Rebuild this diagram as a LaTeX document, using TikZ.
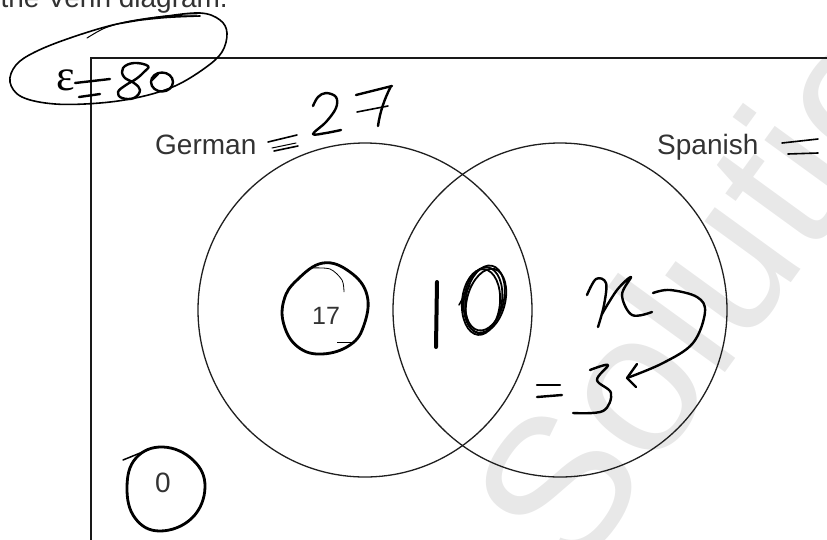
\documentclass[tikz,border=0pt]{standalone}
\usepackage{fontspec}
\setmainfont{Liberation Sans}
\newfontfamily\epsfont{Liberation Serif}
\usetikzlibrary{calc}
\begin{document}
\begin{tikzpicture}[x=1pt,y=-1pt,
  hand/.style={line width=2.4pt, line cap=round, line join=round},
  thinhand/.style={line width=1.6pt, line cap=round, line join=round},
  lbl/.style={text=ink, font=\fontsize{28}{28}\selectfont, inner sep=0pt},
  num/.style={text=ink, font=\fontsize{25}{25}\selectfont, inner sep=0pt},
  setc/.style={draw=black!88, line width=1.3pt}]
\definecolor{ink}{HTML}{333333}
\useasboundingbox (0,0) rectangle (827,539);
% watermark
\node[rotate=54, anchor=base west, text=black!9, inner sep=0pt,
      font=\fontsize{200}{200}\selectfont] (wm) at (574,582) {Solutions};
% top text (cut)
\node[lbl, anchor=base east] (top) at (228,7) {the Venn diagram.};
% universal set
\draw[line width=2pt, draw=black!90] (91,545) -- (91,58) -- (835,58);
% sets
\draw[setc] (365,310) circle[radius=167];
\draw[setc] (560,310) circle[radius=167];
\node[lbl, anchor=base west] (ger) at (155,154) {German};
\node[lbl, anchor=base west] (spa) at (657,154) {Spanish};
\node[num] (n17) at (326,316) {17};
\node[lbl] (n0) at (163,483) {0};
\node[inner sep=0pt, anchor=base, font=\epsfont\fontsize{44}{44}\selectfont] (eps) at (66,90) {ε};
% ellipse round epsilon = 80
\draw[thinhand] plot[smooth, tension=0.6] coordinates {(117,24) (160,17) (200,13) (220,20) (227,33) (222,52) (205,68) (175,86) (140,97) (100,103) (55,104) (22,97) (10,82) (16,65) (35,52) (70,38) (117,24) (160,18) (200,16)};
\draw[line width=1pt, line cap=round] plot[smooth] coordinates {(87,38) (105,28) (130,21) (165,16) (197,15)};
% = 80
\draw[hand] (75,83) -- (110,79);
\draw[hand] (79,97) -- (100,94);
\draw[hand] plot[smooth cycle, tension=0.7] coordinates {(148,66) (134,63) (123,68) (124,77) (134,83) (140,90) (134,98) (122,98) (118,92) (126,85) (136,79) (144,72)};
\draw[hand] (162,82) ellipse[x radius=11, y radius=9.5];
\draw[hand] (152,80) -- (158,74);
% = 27
\draw[thinhand] (268,142) -- (297,135);
\draw[line width=1pt, line cap=round] (272,148) -- (296,143);
\draw[thinhand] (274,151) -- (298,146);
\draw[hand] plot[smooth, tension=0.6] coordinates {(313,106) (318,97) (326,93) (336,97) (336,108) (326,122) (313,134) (326,133) (341,130)};
\draw[hand] (356,95) -- (392,86);
\draw[hand] (391,86) .. controls (384,100) and (380,112) .. (378,126);
\draw[thinhand] (357,112) -- (388,106);
% Spanish =
\draw[thinhand] (782,143) -- (818,139);
\draw[thinhand] (788,154) -- (818,153);
% circle round 17
\draw[hand, line width=2.8pt] plot[smooth cycle, tension=0.7] coordinates {(323,263) (350,272) (367,295) (364,325) (350,345) (322,354) (298,347) (284,325) (284,300) (297,280)};
\draw[line width=0.8pt] plot[smooth] coordinates {(310,268) (330,269) (342,280) (344,292)};
\draw[line width=1pt] (337,342) -- (352,342);
% 10
\draw[line width=4pt, line cap=round] (437,282) -- (436,347);
\foreach \dx/\dy/\ang in {0/0/-8, 2/-2/-12, -2/2/-5, 3/1/-15}
  \draw[line width=1.8pt] ($(483,300)+(\dx,\dy)$) ellipse[x radius=19, y radius=33, rotate=\ang];
\draw[line width=1.5pt, line cap=round] (459,305) -- (470,285);
% x with arrow
\draw[hand] plot[smooth, tension=0.6] coordinates {(587,295) (596,279) (606,283) (604,305) (598,327)};
\draw[hand] plot[smooth, tension=0.6] coordinates {(602,314) (617,290) (631,277) (622,295) (632,315) (652,312)};
\draw[hand] plot[smooth, tension=0.6] coordinates {(653,293) (670,290) (697,297) (705,312) (693,343) (663,363) (627,378)};
\draw[hand] (627,378) -- (637,364);
\draw[hand] (627,378) -- (636,387);
% = 3
\draw[hand] (537,385) -- (560,385);
\draw[hand] (537,397) -- (562,395);
\draw[hand] plot[smooth, tension=0.6] coordinates {(590,370) (608,365) (597,380) (611,393) (603,411) (573,413)};
% circle round 0
\draw[hand, line width=2.8pt] plot[smooth cycle, tension=0.7] coordinates {(163,447) (193,460) (205,487) (192,518) (160,531) (135,518) (127,487) (136,458)};
\draw[line width=1.5pt, line cap=round] (123,460) -- (150,449);
\end{tikzpicture}
\end{document}
